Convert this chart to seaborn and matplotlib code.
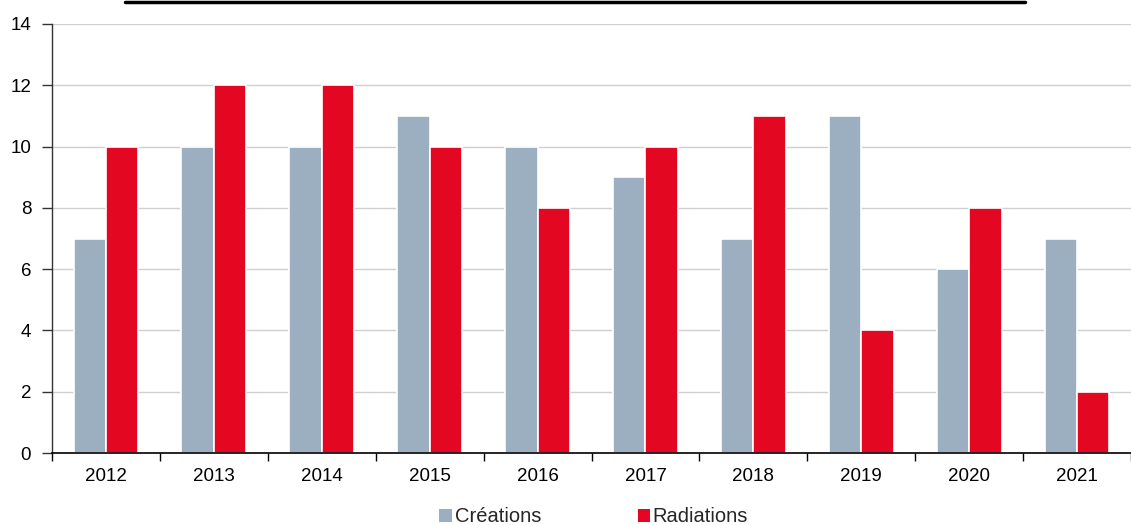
import matplotlib
matplotlib.use("Agg")
import matplotlib.pyplot as plt
import seaborn as sns
import pandas as pd
from matplotlib.lines import Line2D
from matplotlib.patches import Patch

years = ["2012", "2013", "2014", "2015", "2016", "2017", "2018", "2019", "2020", "2021"]
creations = [7, 10, 10, 11, 10, 9, 7, 11, 6, 7]
radiations = [10, 12, 12, 10, 8, 10, 11, 4, 8, 2]
series = ["Créations", "Radiations"]
colors = ["#9BAFC0", "#E30722"]

df = pd.DataFrame({
    "year": years * 2,
    "value": creations + radiations,
    "serie": [series[0]] * len(years) + [series[1]] * len(years),
})

sns.set_theme(style="white")
plt.rcParams["font.family"] = ["Liberation Sans", "DejaVu Sans"]

fig = plt.figure(figsize=(11.31, 5.25), dpi=100)
ax = fig.add_axes([52 / 1131, 1 - 453 / 525, 1 - 52 / 1131, (453 - 24) / 525])

sns.barplot(data=df, x="year", y="value", hue="serie", palette=colors, saturation=1,
            width=0.6, edgecolor="white", linewidth=1.2, ax=ax, legend=False)

ax.set_ylim(0, 14)
ax.set_xlim(-0.5, len(years) - 0.5)
ax.set_yticks(range(0, 15, 2))
ax.yaxis.grid(True, color="#D0D0D0", linewidth=1)
ax.set_axisbelow(True)
ax.set_xlabel("")
ax.set_ylabel("")

# ticks between categories on the x axis
ax.set_xticks([i - 0.5 for i in range(len(years) + 1)], minor=False)
ax.set_xticklabels([""] * (len(years) + 1))
ax.set_xticks(range(len(years)), minor=True)
ax.set_xticklabels(years, minor=True)
ax.tick_params(axis="x", which="major", direction="out", length=6, width=1, color="black", bottom=True)
ax.tick_params(axis="x", which="minor", length=0, labelsize=13.5, pad=11, labelcolor="black")
ax.tick_params(axis="y", direction="out", length=7, width=1, color="#333333", left=True,
               labelsize=13.5, labelcolor="black", pad=8)

for side in ["top", "right"]:
    ax.spines[side].set_visible(False)
ax.spines["left"].set_color("#333333")
ax.spines["left"].set_linewidth(1)
ax.spines["bottom"].set_color("black")
ax.spines["bottom"].set_linewidth(1.2)

handles = [Patch(facecolor=c, edgecolor="none") for c in colors]
fig.legend(handles, series, loc="center", bbox_to_anchor=(0.525, 1 - 517 / 525),
           ncol=2, frameon=False, fontsize=14.5, handlelength=0.6, handleheight=0.6,
           handletextpad=0.15, columnspacing=4.8, borderpad=0)

# title underline at the top edge
fig.add_artist(Line2D([125 / 1131, 1025 / 1131], [1 - 1.5 / 525, 1 - 1.5 / 525],
                      color="black", linewidth=2.5, transform=fig.transFigure))

fig.savefig("out.png", dpi=100)
